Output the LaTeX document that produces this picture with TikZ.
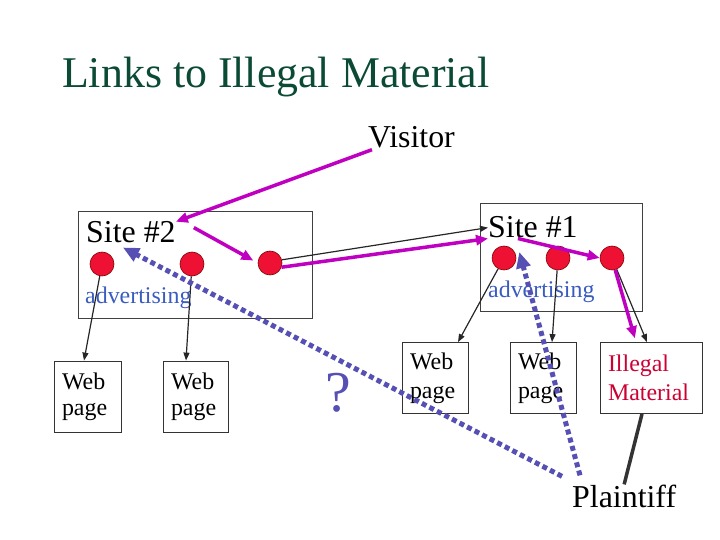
\documentclass[tikz,border=0pt]{standalone}
\usepackage{fontspec}
\setmainfont{Liberation Serif}
\usetikzlibrary{arrows.meta}
\definecolor{titlegreen}{HTML}{0B4A35}
\definecolor{linkpink}{HTML}{C000C0}
\definecolor{adblue}{HTML}{3A5BC0}
\definecolor{suitblue}{HTML}{5650B4}
\definecolor{illred}{HTML}{CC0033}
\definecolor{dotred}{HTML}{EE1133}

\begin{document}
\begin{tikzpicture}[x=1bp,y=-1bp,
  lbl/.style={anchor=base west,inner sep=0pt},
  big/.style={font=\fontsize{32}{35}\selectfont},
  sitebox/.style={draw=black!75,line width=0.8bp},
  pagebox/.style={draw=black!80,line width=0.8bp,align=left,inner xsep=8bp,inner ysep=0pt,minimum height=71bp},
  ad/.style={circle,fill=dotred,draw=red!50!black,line width=0.6bp,minimum size=24bp,inner sep=0pt},
  visit/.style={-{Triangle[length=12bp,width=10bp]},linkpink,line width=3.5bp},
  ref/.style={-{Triangle[length=8bp,width=6bp]},black!85,line width=1.2bp},
  suit/.style={-{Triangle[length=16bp,width=14bp]},suitblue,line width=5bp,dash pattern=on 5bp off 3.5bp}]
\useasboundingbox (0,0) rectangle (720,540);

\node[lbl,titlegreen,font=\fontsize{44}{48}\selectfont] (title) at (62,88) {Links to Illegal Material};
\node[lbl,big] (visitor) at (368,148) {Visitor};

% the two sites
\node[sitebox,minimum width=234bp,minimum height=107bp] (site2) at (195,264.5) {};
\node[sitebox,minimum width=162bp,minimum height=108bp] (site1) at (561,257) {};
\node[lbl,big] (s2lbl) at (86,243) {Site \#2};
\node[lbl,big] (s1lbl) at (488,238) {Site \#1};
\node[lbl,adblue,font=\fontsize{24}{26}\selectfont] (ad2) at (85,303) {advertising};
\node[lbl,adblue,font=\fontsize{24}{26}\selectfont] (ad1) at (488,297) {advertising};
\foreach \n/\x/\y in {a1/102/264,a2/192/264,a3/270/263,b1/504/258,b2/558/258,b3/612/258}
    \node[ad] (\n) at (\x,\y) {};

% pages
\node[pagebox,text width=51bp,font=\fontsize{24}{26}\selectfont] (wp1) at (87.5,396.5) {Web\\page};
\node[pagebox,text width=49bp,font=\fontsize{24}{26}\selectfont] (wp2) at (195.5,396.5) {Web\\page};
\node[pagebox,text width=50bp,font=\fontsize{24}{29}\selectfont] (wp3) at (435,378) {Web\\page};
\node[pagebox,text width=50bp,font=\fontsize{24}{29}\selectfont] (wp4) at (543,378) {Web\\page};
\node[pagebox,text width=86bp,text=illred,font=\fontsize{24}{29}\selectfont] (ill) at (651,378) {Illegal\\Material};

\node[lbl,suitblue,font=\fontsize{58}{60}\selectfont] (unknown) at (325,411) {?};
\node[lbl,big] (plaintiff) at (572,507) {Plaintiff};

% links
\draw[ref] (a1) -- ([xshift=-3.5bp]wp1.north);
\draw[ref] (a2) -- ([xshift=-9.5bp]wp2.north);
\draw[ref] (b1) -- ([xshift=23bp]wp3.north);
\draw[ref] (b2) -- ([xshift=9bp]wp4.north);
\draw[ref] (b3) -- ([xshift=-4bp]ill.north);
\draw[ref] (a3.15) -- (s1lbl.west);

\draw[visit] ([xshift=4bp,yshift=-1bp]visitor.south west) -- (s2lbl.north east);
\draw[visit,shorten >=5bp] ([xshift=18bp,yshift=5bp]s2lbl.east) -- (a3.west);
\draw[visit] (a3.-20) -- (s1lbl.south west);
\draw[visit] ([xshift=-15bp]s1lbl.south) -- (b3.west);
\draw[visit,shorten >=4bp] (b3.-75) -- ([xshift=-15bp]ill.north);

\draw[black!80,line width=3.5bp] ([xshift=-9bp]ill.south) -- (plaintiff.north);

\draw[suit] ([xshift=-10bp,yshift=8bp]plaintiff.north west) -- ([xshift=-8bp,yshift=-4bp]s2lbl.south);
\draw[suit] ([xshift=8bp,yshift=9bp]plaintiff.north west) -- ([xshift=3bp,yshift=6bp]b1.east);
\end{tikzpicture}
\end{document}
